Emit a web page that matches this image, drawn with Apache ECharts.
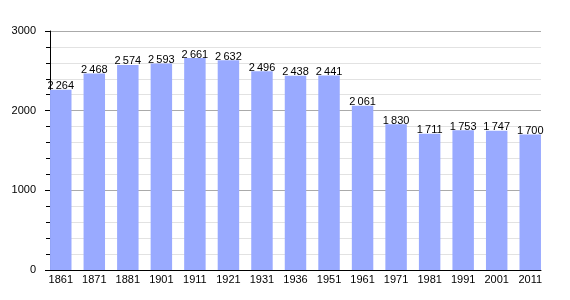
<!DOCTYPE html>
<html>
<head>
<meta charset="utf-8"/>
<title>Population</title>
<script src="https://cdn.jsdelivr.net/npm/echarts@6/dist/echarts.min.js"></script>
<style>
html,body{margin:0;padding:0;background:#fff;}
#main{width:570px;height:300px;}
</style>
</head>
<body>
<div id="main"></div>
<script>
var years = ['1861','1871','1881','1901','1911','1921','1931','1936','1951','1961','1971','1981','1991','2001','2011'];
var population = [2264,2468,2574,2593,2661,2632,2496,2438,2441,2061,1830,1711,1753,1747,1700];
var yMin = 0, yMax = 3000, yStep = 1000;

function fmt(v){
    var s = String(v);
    if(s.length > 3) s = s.slice(0, s.length-3) + '\u2009' + s.slice(s.length-3);
    return s;
}

var myChart = echarts.init(document.getElementById('main'));
var font = 'Liberation Sans, Arial, sans-serif';

var option = {
    animation: false,
    grid: [
        // axes + gridlines
        {left: 50, right: 29, top: 31, bottom: 30},
        // bars, flush against the axis
        {left: 44, right: 23, top: 31, bottom: 30}
    ],
    xAxis: [
        {
            gridIndex: 0, type: 'value', min: 0, max: 1,
            axisLine: {show: true, onZero: false, lineStyle: {color: '#000', width: 1}},
            axisTick: {show: false}, axisLabel: {show: false}, splitLine: {show: false}
        },
        {
            gridIndex: 1, type: 'category', data: years,
            axisLine: {show: false}, axisTick: {show: false},
            axisLabel: {color: '#000', fontSize: 11, fontFamily: font, margin: 4}
        }
    ],
    yAxis: [
        {
            gridIndex: 0, type: 'value', min: yMin, max: yMax, interval: yStep,
            axisLine: {show: true, lineStyle: {color: '#000', width: 1}},
            axisTick: {show: true, length: 5, lineStyle: {color: '#000'}},
            minorTick: {show: true, splitNumber: 5, length: 4, lineStyle: {color: '#000'}},
            axisLabel: {color: '#000', fontSize: 11, fontFamily: font, margin: 14,
                formatter: function(v){ return String(v); }},
            splitLine: {show: true, lineStyle: {color: '#aaaaaa', width: 1}},
            minorSplitLine: {show: true, lineStyle: {color: '#e2e2e2', width: 1}}
        },
        {
            gridIndex: 1, type: 'value', min: yMin, max: yMax, show: false
        }
    ],
    series: [{
        type: 'bar',
        xAxisIndex: 1, yAxisIndex: 1,
        data: population,
        barCategoryGap: '36%',
        itemStyle: {color: '#99aaff'},
        z: 3,
        label: {
            show: true, position: 'top', distance: 0, offset: [0, 2],
            color: '#000', fontSize: 11, fontFamily: font,
            formatter: function(p){ return fmt(p.value); }
        }
    }]
};
myChart.setOption(option);
</script>
</body>
</html>
